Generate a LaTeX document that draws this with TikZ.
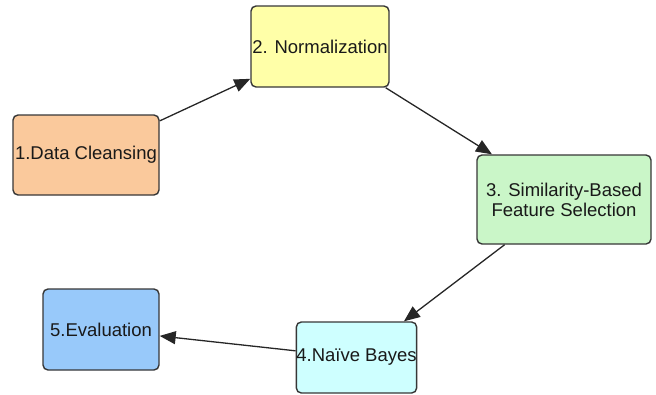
\documentclass[tikz,border=0pt]{standalone}
\usepackage{fontspec}
\setmainfont{Liberation Sans}
\usepackage{tikz}
\usetikzlibrary{arrows.meta, positioning}
\usepackage{xcolor}
\definecolor{stageorange}{RGB}{250,201,156}
\definecolor{stageyellow}{RGB}{255,255,168}
\definecolor{stagegreen}{RGB}{202,246,200}
\definecolor{stagecyan}{RGB}{206,255,255}
\definecolor{stageblue}{RGB}{152,201,250}
\definecolor{edgegray}{RGB}{55,55,55}
\definecolor{textgray}{RGB}{25,25,25}

\begin{document}
\begin{tikzpicture}[x=1pt, y=-1pt,
  stage/.style={draw=edgegray, line width=1.4pt, rounded corners=5pt, inner sep=0pt,
    text=textgray, align=center, font=\fontsize{18.5}{20}\selectfont},
  flow/.style={-{Triangle[length=16pt, width=13pt]}, line width=1.3pt, draw=black!85}]
  \useasboundingbox (0,0) rectangle (656,394);

  % Stages
  \node[stage, fill=stageorange, minimum width=146pt, minimum height=80pt] (clean) at (86,155) {1.Data Cleansing};
  \node[stage, fill=stageyellow, minimum width=138pt, minimum height=81pt] (norm) at (320,46.5) {2. Normalization};
  \node[stage, fill=stagegreen, minimum width=174pt, minimum height=89pt] (select) at (564,199.5) {3. Similarity-Based\\Feature Selection};
  \node[stage, fill=stagecyan, minimum width=117pt, minimum height=71pt] (bayes) at (356.5,357.5) {4.Na\"ive Bayes};
  \node[stage, fill=stageblue, minimum width=116pt, minimum height=81pt] (eval) at (101,329.5) {5.Evaluation};

  % Flow
  \draw[flow] (clean) -- (norm);
  \draw[flow] (norm) -- (select);
  \draw[flow] (select) -- (bayes);
  \draw[flow] (bayes) -- (eval);
\end{tikzpicture}
\end{document}
